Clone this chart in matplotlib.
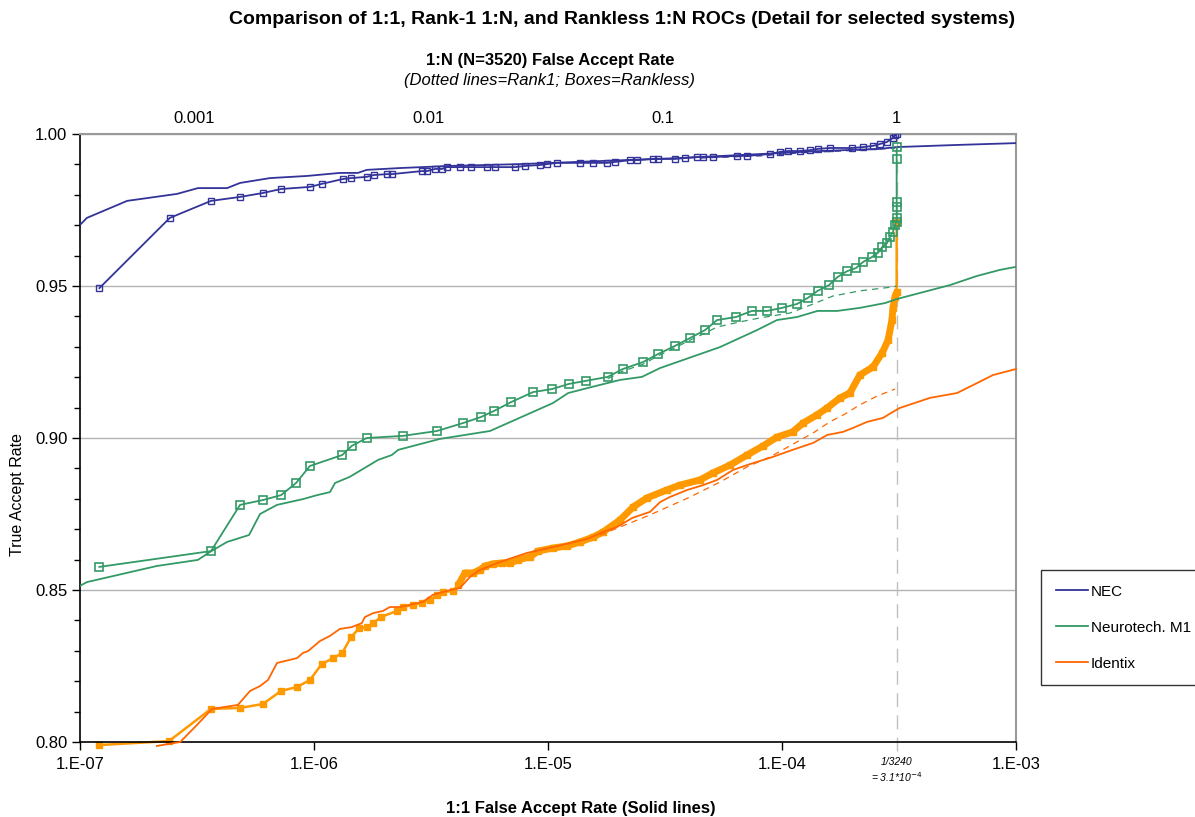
import numpy as np
import matplotlib
matplotlib.use("Agg")
import matplotlib.pyplot as plt
from matplotlib.lines import Line2D
from matplotlib import transforms

plt.rcParams['font.family'] = ['Liberation Sans', 'DejaVu Sans']

# 1:1 FAR where 1:N (N=3240 enrolled) FAR reaches 1
FAR_LIMIT = 1 / 3240

# NEC
nec_far = [0.98e-7, 1.07e-7, 1.59e-7, 2.60e-7, 3.19e-7, 4.25e-7, 4.83e-7, 6.49e-7, 9.34e-7, 1.29e-6,
           1.54e-6, 1.68e-6, 2.33e-6, 3.81e-6, 7.59e-6, 1.67e-5, 3.66e-5, 8.05e-5, 1.45e-4, 2.62e-4,
           3.09e-4, 5.60e-4, 1.00e-3]
nec_tar = [0.9694, 0.9724, 0.9780, 0.9803, 0.9822, 0.9822, 0.9839, 0.9855, 0.9862, 0.9872,
           0.9872, 0.9882, 0.9888, 0.9895, 0.9901, 0.9911, 0.9921, 0.9934, 0.9944, 0.9951,
           0.9957, 0.9964, 0.9970]
nec_box_far = [1.21e-7, 2.42e-7, 3.63e-7, 4.83e-7, 6.05e-7, 7.23e-7, 9.61e-7, 1.08e-6, 1.33e-6, 1.44e-6,
               1.68e-6, 1.80e-6, 2.05e-6, 2.15e-6, 2.89e-6, 3.04e-6, 3.29e-6, 3.52e-6, 3.70e-6, 4.21e-6,
               4.69e-6, 5.49e-6, 5.93e-6, 7.23e-6, 7.97e-6, 9.24e-6, 9.90e-6, 1.09e-5, 1.37e-5, 1.56e-5,
               1.79e-5, 1.93e-5, 2.24e-5, 2.40e-5, 2.81e-5, 2.95e-5, 3.49e-5, 3.85e-5, 4.33e-5, 4.60e-5,
               5.07e-5, 6.42e-5, 7.09e-5, 8.89e-5, 9.80e-5, 1.06e-4, 1.19e-4, 1.32e-4, 1.42e-4, 1.60e-4,
               1.99e-4, 2.22e-4, 2.45e-4, 2.62e-4, 2.81e-4, 2.98e-4, 3.04e-4, 3.09e-4]
nec_box_tar = [0.9493, 0.9724, 0.9780, 0.9793, 0.9806, 0.9819, 0.9826, 0.9836, 0.9852, 0.9855,
               0.9859, 0.9865, 0.9868, 0.9868, 0.9878, 0.9878, 0.9885, 0.9885, 0.9891, 0.9891,
               0.9891, 0.9891, 0.9891, 0.9891, 0.9895, 0.9898, 0.9901, 0.9905, 0.9905, 0.9905,
               0.9905, 0.9908, 0.9914, 0.9914, 0.9918, 0.9918, 0.9918, 0.9921, 0.9924, 0.9924,
               0.9924, 0.9928, 0.9928, 0.9934, 0.9941, 0.9944, 0.9944, 0.9947, 0.9951, 0.9954,
               0.9954, 0.9957, 0.9961, 0.9967, 0.9974, 0.9987, 0.9997, 1.0]
nec_r1_far = [4.46e-5, 8.05e-5, 1.19e-4, 1.77e-4, 2.62e-4, 3.04e-4]
nec_r1_tar = [0.9921, 0.9928, 0.9938, 0.9944, 0.9951, 0.9954]

# Neurotech. M1
neu_far = [0.98e-7, 1.07e-7, 2.13e-7, 3.19e-7, 3.59e-7, 4.25e-7, 5.28e-7, 5.88e-7, 6.95e-7, 8.97e-7,
           1.03e-6, 1.17e-6, 1.23e-6, 1.42e-6, 1.88e-6, 2.15e-6, 2.29e-6, 3.45e-6, 5.65e-6, 1.05e-5,
           1.22e-5, 1.47e-5, 2.03e-5, 2.52e-5, 3.01e-5, 5.43e-5, 7.82e-5, 9.52e-5, 1.16e-4, 1.42e-4,
           1.72e-4, 2.15e-4, 2.76e-4, 3.09e-4, 5.22e-4, 6.81e-4, 8.54e-4, 1.00e-3]
neu_tar = [0.8510, 0.8526, 0.8579, 0.8599, 0.8625, 0.8658, 0.8681, 0.8750, 0.8780, 0.8799,
           0.8812, 0.8822, 0.8852, 0.8872, 0.8928, 0.8944, 0.8961, 0.8997, 0.9023, 0.9115,
           0.9148, 0.9164, 0.9191, 0.9201, 0.9230, 0.9299, 0.9355, 0.9388, 0.9398, 0.9418,
           0.9418, 0.9428, 0.9444, 0.9457, 0.9503, 0.9533, 0.9553, 0.9563]
neu_box_far = [1.21e-7, 3.63e-7, 4.83e-7, 6.05e-7, 7.23e-7, 8.38e-7, 9.61e-7, 1.32e-6, 1.45e-6, 1.68e-6,
               2.40e-6, 3.35e-6, 4.33e-6, 5.17e-6, 5.88e-6, 6.95e-6, 8.63e-6, 1.04e-5, 1.23e-5, 1.45e-5,
               1.80e-5, 2.09e-5, 2.55e-5, 2.95e-5, 3.49e-5, 4.05e-5, 4.69e-5, 5.28e-5, 6.36e-5, 7.44e-5,
               8.63e-5, 1.00e-4, 1.16e-4, 1.29e-4, 1.42e-4, 1.59e-4, 1.73e-4, 1.90e-4, 2.07e-4, 2.22e-4,
               2.42e-4, 2.57e-4, 2.68e-4, 2.81e-4, 2.89e-4, 2.98e-4, 3.04e-4, 3.09e-4, 3.09e-4, 3.09e-4,
               3.09e-4, 3.09e-4, 3.09e-4]
neu_box_tar = [0.8576, 0.8628, 0.8780, 0.8796, 0.8812, 0.8852, 0.8908, 0.8944, 0.8974, 0.9000,
               0.9007, 0.9023, 0.9049, 0.9069, 0.9089, 0.9118, 0.9151, 0.9161, 0.9178, 0.9188,
               0.9201, 0.9227, 0.9250, 0.9276, 0.9303, 0.9329, 0.9355, 0.9388, 0.9398, 0.9418,
               0.9418, 0.9428, 0.9441, 0.9461, 0.9484, 0.9503, 0.9530, 0.9549, 0.9559, 0.9579,
               0.9595, 0.9609, 0.9628, 0.9641, 0.9661, 0.9678, 0.9701, 0.9711, 0.9724, 0.9760,
               0.9776, 0.9918, 0.9957]
neu_r1_far = [1.80e-5, 2.09e-5, 2.55e-5, 2.95e-5, 3.49e-5, 4.05e-5, 4.69e-5, 5.28e-5, 6.61e-5, 8.05e-5,
              1.08e-4, 1.32e-4, 1.65e-4, 2.15e-4, 2.98e-4, 3.09e-4]
neu_r1_tar = [0.9195, 0.9220, 0.9243, 0.9270, 0.9297, 0.9322, 0.9345, 0.9365, 0.9382, 0.9395,
              0.9411, 0.9437, 0.9467, 0.9484, 0.9497, 0.9500]

# Identix
idx_far = [2.13e-7, 2.68e-7, 3.16e-7, 3.67e-7, 4.73e-7, 5.33e-7, 5.88e-7, 6.36e-7, 6.95e-7, 8.46e-7,
           8.97e-7, 9.43e-7, 1.06e-6, 1.17e-6, 1.29e-6, 1.45e-6, 1.60e-6, 1.65e-6, 1.79e-6, 1.97e-6,
           2.11e-6, 2.33e-6, 2.92e-6, 3.22e-6, 3.70e-6, 4.21e-6, 4.64e-6, 5.12e-6, 6.23e-6, 8.13e-6,
           1.05e-5, 1.47e-5, 1.72e-5, 1.97e-5, 2.29e-5, 2.73e-5, 3.01e-5, 3.32e-5, 3.93e-5, 4.60e-5,
           5.28e-5, 6.18e-5, 7.09e-5, 9.15e-5, 1.11e-4, 1.36e-4, 1.56e-4, 1.82e-4, 2.01e-4, 2.31e-4,
           2.70e-4, 2.98e-4, 3.19e-4, 4.29e-4, 5.60e-4, 6.55e-4, 7.97e-4, 1.00e-3]
idx_tar = [0.7987, 0.8000, 0.8056, 0.8109, 0.8122, 0.8168, 0.8184, 0.8204, 0.8260, 0.8276,
           0.8293, 0.8299, 0.8332, 0.8349, 0.8372, 0.8378, 0.8391, 0.8411, 0.8424, 0.8431,
           0.8444, 0.8444, 0.8461, 0.8484, 0.8497, 0.8507, 0.8543, 0.8566, 0.8592, 0.8622,
           0.8641, 0.8668, 0.8691, 0.8707, 0.8737, 0.8757, 0.8789, 0.8806, 0.8829, 0.8845,
           0.8862, 0.8895, 0.8911, 0.8938, 0.8961, 0.8984, 0.9010, 0.9020, 0.9033, 0.9053,
           0.9066, 0.9086, 0.9099, 0.9132, 0.9148, 0.9174, 0.9207, 0.9227]
idx_box_far = [1.21e-7, 2.40e-7, 3.63e-7, 4.83e-7, 6.05e-7, 7.23e-7, 8.46e-7, 9.61e-7, 1.08e-6, 1.21e-6,
               1.32e-6, 1.44e-6, 1.56e-6, 1.68e-6, 1.79e-6, 1.93e-6, 2.26e-6, 2.40e-6, 2.65e-6, 2.89e-6,
               3.13e-6, 3.35e-6, 3.56e-6, 3.93e-6, 4.13e-6, 4.42e-6, 4.78e-6, 5.12e-6, 5.38e-6, 5.82e-6,
               6.36e-6, 6.88e-6, 7.44e-6, 8.38e-6, 9.06e-6, 1.05e-5, 1.21e-5, 1.37e-5, 1.56e-5, 1.72e-5,
               2.03e-5, 2.31e-5, 2.65e-5, 3.22e-5, 3.66e-5, 4.46e-5, 5.07e-5, 6.00e-5, 7.09e-5, 8.30e-5,
               9.52e-5, 1.11e-4, 1.23e-4, 1.41e-4, 1.56e-4, 1.77e-4, 1.95e-4, 2.15e-4, 2.45e-4, 2.68e-4,
               2.84e-4, 2.95e-4, 2.98e-4, 3.04e-4, 3.09e-4, 3.09e-4]
idx_box_tar = [0.7990, 0.8003, 0.8109, 0.8112, 0.8125, 0.8168, 0.8181, 0.8204, 0.8257, 0.8276,
               0.8293, 0.8345, 0.8375, 0.8378, 0.8391, 0.8411, 0.8431, 0.8444, 0.8451, 0.8457,
               0.8467, 0.8484, 0.8493, 0.8497, 0.8516, 0.8556, 0.8556, 0.8566, 0.8579, 0.8586,
               0.8589, 0.8589, 0.8599, 0.8609, 0.8628, 0.8638, 0.8645, 0.8658, 0.8674, 0.8691,
               0.8730, 0.8773, 0.8803, 0.8829, 0.8845, 0.8862, 0.8885, 0.8911, 0.8944, 0.8974,
               0.9003, 0.9020, 0.9049, 0.9076, 0.9099, 0.9132, 0.9148, 0.9207, 0.9234, 0.9280,
               0.9322, 0.9388, 0.9428, 0.9464, 0.9480, 0.9711]
idx_r1_far = [1.67e-5, 2.73e-5, 4.05e-5, 5.43e-5, 7.09e-5, 8.89e-5, 1.14e-4, 1.38e-4, 1.60e-4, 1.86e-4,
              2.15e-4, 2.55e-4, 3.04e-4]
idx_r1_tar = [0.8681, 0.8747, 0.8806, 0.8855, 0.8905, 0.8938, 0.8984, 0.9020, 0.9053, 0.9079,
              0.9109, 0.9138, 0.9161]

c_nec = '#333399'
c_neu = '#339966'
c_idx = '#FF6600'
c_idx_box = '#FF9900'

fig = plt.figure(figsize=(11.95, 8.17), dpi=100)
ax = fig.add_axes([80 / 1195, 1 - 742 / 817, 936 / 1195, 608 / 817])

# grid + FAR limit marker line
for yv in [0.85, 0.90, 0.95, 1.00]:
    ax.axhline(yv, color='#b3b3b3', lw=1, zorder=0)
ax.axvline(FAR_LIMIT, ymin=-0.015, ymax=1, color='#c0c0c0', lw=1, dashes=(10, 6),
           zorder=0, clip_on=False)

# solid = 1:1, dashed = rank-1 1:N, boxes = rankless 1:N
ax.plot(nec_far, nec_tar, color=c_nec, lw=1.3, zorder=3)
ax.plot(nec_r1_far, nec_r1_tar, color=c_nec, lw=0.9, dashes=(5, 4), zorder=3)
ax.plot(nec_box_far, nec_box_tar, color=c_nec, lw=1.3, marker='s', ms=4.3, mfc='none',
        mew=1.0, zorder=4)

ax.plot(neu_far, neu_tar, color=c_neu, lw=1.3, zorder=3)
ax.plot(neu_r1_far, neu_r1_tar, color=c_neu, lw=0.9, dashes=(5, 4), zorder=3)
ax.plot(neu_box_far, neu_box_tar, color=c_neu, lw=1.3, marker='s', ms=5.2, mfc='none',
        mew=1.2, zorder=4)

ax.plot(idx_far, idx_tar, color=c_idx, lw=1.3, zorder=3, clip_on=False)
ax.plot(idx_r1_far, idx_r1_tar, color=c_idx, lw=0.9, dashes=(5, 4), zorder=3)
ibf = np.array(idx_box_far)
ibt = np.array(idx_box_tar)
ax.plot(ibf, ibt, color=c_idx_box, lw=1.8, marker='s', ms=4, zorder=2, clip_on=False)
dense = (ibf > 4e-6) & (ibt < 0.95)
ax.plot(ibf[dense], ibt[dense], color=c_idx_box, lw=5, solid_capstyle='butt', zorder=2)

ax.set_xscale('log')
ax.set_xlim(1e-7, 1e-3)
ax.set_ylim(0.80, 1.00)
ax.set_xticks([1e-7, 1e-6, 1e-5, 1e-4, 1e-3])
ax.set_xticklabels(['1.E-07', '1.E-06', '1.E-05', '1.E-04', '1.E-03'])
ax.xaxis.set_minor_locator(matplotlib.ticker.NullLocator())
ax.set_yticks(np.arange(0.80, 1.001, 0.05))
ax.set_yticklabels(['%.2f' % v for v in np.arange(0.80, 1.001, 0.05)])
ax.set_yticks(np.arange(0.80, 1.001, 0.01), minor=True)
ax.tick_params(axis='both', which='major', direction='out', length=6, width=1, labelsize=12)
ax.tick_params(axis='y', which='major', pad=3)
ax.tick_params(axis='x', which='major', pad=5)
ax.tick_params(axis='y', which='minor', direction='out', length=4, width=1)
for s in ['top', 'right']:
    ax.spines[s].set_color('#999999')
    ax.spines[s].set_linewidth(1.5)
for s in ['left', 'bottom']:
    ax.spines[s].set_color('black')
    ax.spines[s].set_linewidth(1.2)

# top axis: 1:N FAR
sec = ax.secondary_xaxis('top', functions=(lambda x: x * 3240, lambda x: x / 3240))
sec.set_xticks([0.001, 0.01, 0.1, 1])
sec.set_xticklabels(['0.001', '0.01', '0.1', '1'])
sec.xaxis.set_minor_locator(matplotlib.ticker.NullLocator())
sec.tick_params(length=0, labelsize=12, pad=6)
sec.spines['top'].set_visible(False)

# FAR limit annotation
trans = transforms.blended_transform_factory(ax.transData, ax.transAxes)
ax.text(FAR_LIMIT, -0.033, '1/3240', transform=trans, ha='center', va='center',
        fontsize=7.5, style='italic')
ax.text(FAR_LIMIT, -0.058, '= 3.1*10$^{\\mathit{-4}}$', transform=trans, ha='center',
        va='center', fontsize=7.5, style='italic')

fig.text(622 / 1195, 1 - 20 / 817, 'Comparison of 1:1, Rank-1 1:N, and Rankless 1:N ROCs (Detail for selected systems)',
         ha='center', va='center', fontsize=14, fontweight='bold')
fig.text(550 / 1195, 1 - 60 / 817, '1:N (N=3520) False Accept Rate', ha='center', va='center',
         fontsize=12, fontweight='bold')
fig.text(549 / 1195, 1 - 80 / 817, '(Dotted lines=Rank1; Boxes=Rankless)', ha='center',
         va='center', fontsize=12, style='italic')
fig.text(581 / 1195, 1 - 808 / 817, '1:1 False Accept Rate (Solid lines)', ha='center',
         va='center', fontsize=12, fontweight='bold')
fig.text(18 / 1195, 1 - 495 / 817, 'True Accept Rate', ha='center', va='center',
         rotation=90, fontsize=11.5)

handles = [Line2D([], [], color=c, lw=1.3) for c in [c_nec, c_neu, c_idx]]
leg = fig.legend(handles, ['NEC', 'Neurotech. M1', 'Identix'], loc='upper left',
                 bbox_to_anchor=(1041 / 1195, 1 - 570 / 817), fontsize=11, frameon=True,
                 fancybox=False, edgecolor='black', handlelength=2.1, handletextpad=0.2,
                 labelspacing=1.45, borderpad=0.95, borderaxespad=0)
leg.get_frame().set_linewidth(1)

fig.savefig('out.png', dpi=100)
